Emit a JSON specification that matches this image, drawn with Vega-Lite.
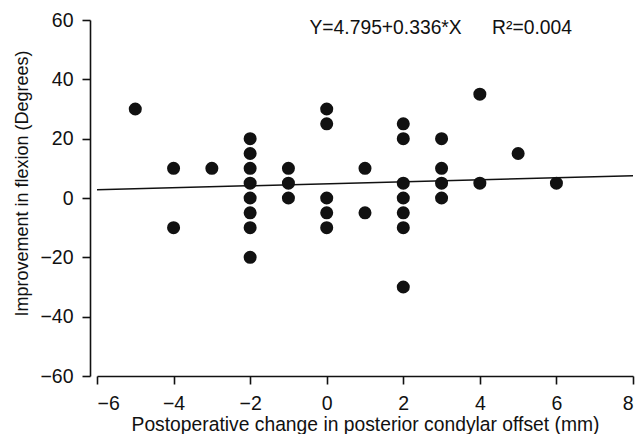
{
  "$schema": "https://vega.github.io/schema/vega-lite/v6.json",
  "autosize": "none",
  "width": 536,
  "height": 356,
  "padding": {"left": 97, "top": 20, "right": 5, "bottom": 58},
  "background": "white",
  "config": {
    "view": {"stroke": null},
    "font": "Liberation Sans",
    "axis": {
      "grid": false,
      "domainColor": "#111",
      "domainWidth": 1.6,
      "tickColor": "#111",
      "tickWidth": 1.6,
      "tickSize": 8,
      "labelFont": "Liberation Sans",
      "labelFontSize": 19.5,
      "labelColor": "#111",
      "titleFont": "Liberation Sans",
      "titleFontSize": 19.3,
      "titleFontWeight": "normal",
      "titleColor": "#111"
    }
  },
  "datasets": {
    "points": [
      {"offset": -5, "flexion": 30},
      {"offset": -4, "flexion": 10},
      {"offset": -4, "flexion": -10},
      {"offset": -3, "flexion": 10},
      {"offset": -2, "flexion": 20},
      {"offset": -2, "flexion": 15},
      {"offset": -2, "flexion": 10},
      {"offset": -2, "flexion": 5},
      {"offset": -2, "flexion": 0},
      {"offset": -2, "flexion": -5},
      {"offset": -2, "flexion": -10},
      {"offset": -2, "flexion": -20},
      {"offset": -1, "flexion": 10},
      {"offset": -1, "flexion": 5},
      {"offset": -1, "flexion": 0},
      {"offset": 0, "flexion": 30},
      {"offset": 0, "flexion": 25},
      {"offset": 0, "flexion": 0},
      {"offset": 0, "flexion": -5},
      {"offset": 0, "flexion": -10},
      {"offset": 1, "flexion": 10},
      {"offset": 1, "flexion": -5},
      {"offset": 2, "flexion": 25},
      {"offset": 2, "flexion": 20},
      {"offset": 2, "flexion": 5},
      {"offset": 2, "flexion": 0},
      {"offset": 2, "flexion": -5},
      {"offset": 2, "flexion": -10},
      {"offset": 2, "flexion": -30},
      {"offset": 3, "flexion": 20},
      {"offset": 3, "flexion": 10},
      {"offset": 3, "flexion": 5},
      {"offset": 3, "flexion": 0},
      {"offset": 4, "flexion": 35},
      {"offset": 4, "flexion": 5},
      {"offset": 5, "flexion": 15},
      {"offset": 6, "flexion": 5}
    ],
    "fit": [
      {"offset": -6, "flexion": 2.779},
      {"offset": 8, "flexion": 7.483}
    ],
    "note": [
      {"offset": -0.45, "flexion": 57.3, "label": "Y=4.795+0.336*X"},
      {"offset": 4.32, "flexion": 57.3, "label": "R²=0.004"}
    ]
  },
  "layer": [
    {
      "data": {"name": "fit"},
      "mark": {"type": "line", "color": "#111", "strokeWidth": 1.5},
      "encoding": {
        "x": {
          "field": "offset", "type": "quantitative",
          "scale": {"domain": [-6, 8], "nice": false, "zero": false},
          "axis": {"values": [-6, -4, -2, 0, 2, 4, 6, 8], "title": "Postoperative change in posterior condylar offset (mm)", "labelPadding": 10, "titlePadding": 3}
        },
        "y": {
          "field": "flexion", "type": "quantitative",
          "scale": {"domain": [-60, 60], "nice": false, "zero": false},
          "axis": {"values": [-60, -40, -20, 0, 20, 40, 60], "title": "Improvement in flexion (Degrees)", "titleFontSize": 18, "titleY": 163, "offset": 7, "labelPadding": 9, "titlePadding": 8}
        }
      }
    },
    {
      "data": {"name": "points"},
      "mark": {"type": "point", "filled": true, "color": "#111", "size": 170, "opacity": 1},
      "encoding": {
        "x": {"field": "offset", "type": "quantitative"},
        "y": {"field": "flexion", "type": "quantitative"}
      }
    },
    {
      "data": {"name": "note"},
      "mark": {"type": "text", "align": "left", "baseline": "middle", "fontSize": 19.3, "color": "#111", "font": "Liberation Sans"},
      "encoding": {
        "x": {"field": "offset", "type": "quantitative"},
        "y": {"field": "flexion", "type": "quantitative"},
        "text": {"field": "label"}
      }
    }
  ]
}
